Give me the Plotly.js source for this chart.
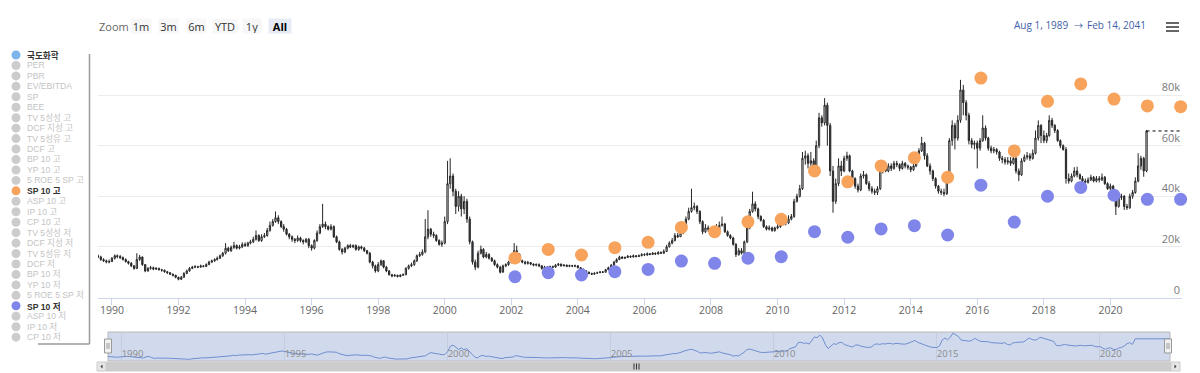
<!DOCTYPE html>
<html><head><meta charset="utf-8">
<script src="https://cdn.plot.ly/plotly-3.0.1.min.js"></script>
<style>html,body{margin:0;padding:0;background:#fff}#chart{width:1200px;height:373px}</style>
</head><body><div id="chart"></div>
<script>
// ---- DATA (monthly candles, values in thousands of KRW) ----
const startYear = 1989, startMonth = 8;
const openK = [
16.5,16.0,15.0,14.5,14.0,
14.2,15.5,16.5,16.2,15.8,15.0,14.2,13.5,12.5,11.5,15.0,16.0,
13.0,10.5,11.5,11.8,11.2,11.5,11.0,10.8,10.2,9.8,9.2,8.8,
8.0,7.2,8.0,9.5,10.5,11.5,12.0,12.2,12.0,12.5,12.3,13.0,
14.0,14.5,15.0,15.5,16.5,17.5,19.5,18.5,19.8,20.5,19.5,20.0,
21.0,20.5,21.5,22.0,23.0,24.5,22.5,24.0,24.5,26.5,28.5,30.0,
31.5,30.0,28.0,27.0,25.0,24.0,23.0,22.5,23.5,22.5,22.0,23.0,
20.5,19.5,22.5,25.5,28.0,29.0,28.0,27.0,28.0,24.0,22.0,19.0,
18.0,19.5,20.5,20.0,20.5,19.0,20.0,19.5,18.5,17.5,14.0,12.5,
10.5,13.0,14.5,12.0,10.5,9.0,8.5,8.8,8.3,8.8,9.0,11.5,
12.5,13.0,14.5,16.5,17.0,18.0,24.0,27.0,25.0,24.5,22.5,21.0,
21.5,30.0,45.0,48.0,42.0,36.0,40.0,35.0,38.0,31.0,22.0,14.0,
12.0,17.5,19.0,16.0,17.0,15.5,14.5,13.0,12.0,10.0,12.5,13.0,
14.0,14.5,18.5,17.0,14.5,14.0,13.5,13.8,13.2,12.8,13.0,12.5,
11.5,12.0,11.8,12.2,12.0,12.8,13.2,12.5,12.8,12.3,12.6,12.4,
12.5,11.8,11.2,10.5,10.0,9.5,9.2,9.6,9.8,10.1,10.0,11.0,
11.8,12.8,14.0,15.0,16.0,15.5,15.8,16.3,16.0,16.5,16.2,16.5,
17.0,16.8,17.3,17.0,17.5,17.2,17.8,17.5,18.2,20.0,21.5,22.5,
24.5,24.0,25.5,28.0,31.0,34.0,35.5,36.0,34.0,30.0,26.0,27.5,
27.0,26.0,25.0,26.5,28.5,29.0,26.0,24.5,23.5,21.0,17.0,18.5,
17.5,22.0,27.5,34.0,37.0,35.0,32.0,30.5,28.0,27.0,27.5,26.5,
27.5,28.0,29.0,30.5,29.5,31.0,32.0,38.0,40.0,43.0,55.0,56.0,
53.0,54.0,51.0,60.0,71.0,69.0,76.0,68.0,50.0,38.0,45.0,52.0,
50.0,55.0,56.0,50.0,47.0,44.0,42.5,48.0,48.5,45.0,43.0,42.0,
41.5,43.0,50.0,51.5,50.0,52.0,51.0,53.0,52.5,51.0,53.0,52.0,
51.5,50.5,52.0,55.0,58.0,61.0,56.0,52.0,50.0,47.0,44.0,42.0,
41.5,41.0,46.0,62.0,68.0,63.0,70.0,82.0,77.0,72.0,62.0,60.5,
61.0,59.0,62.0,67.0,63.0,59.0,58.0,58.5,57.5,55.0,54.5,53.5,
54.0,53.0,55.0,50.0,48.5,54.0,55.5,56.0,55.0,57.0,63.0,68.0,
64.0,62.0,64.0,70.0,68.0,66.0,62.0,60.0,58.5,47.0,46.0,48.0,
50.0,48.5,47.0,46.0,45.5,46.5,47.5,46.0,47.0,46.5,47.5,45.0,
43.0,44.0,40.0,36.0,39.5,40.0,36.0,35.5,40.0,41.5,46.0,52.0,
55.0,50.0];
const highK = [
17.0,16.5,15.5,15.0,15.0,
16.0,17.0,17.0,16.8,16.2,15.5,14.5,14.0,12.8,17.5,16.8,16.2,
13.2,12.0,12.5,12.2,12.0,11.8,11.3,11.0,10.5,10.0,9.5,9.0,
8.2,8.5,10.0,11.0,12.0,12.5,12.8,12.5,13.0,12.8,13.5,14.5,
15.0,15.5,16.2,17.0,18.0,21.5,20.0,20.5,22.0,21.0,20.8,21.8,
21.8,22.0,22.8,24.0,26.5,25.0,25.0,25.5,27.5,30.0,31.0,34.0,
32.5,30.5,29.0,27.5,25.5,24.5,23.5,24.5,24.0,23.0,23.5,23.5,
21.0,23.0,26.5,29.0,37.0,30.0,28.5,29.0,28.5,24.5,22.5,19.5,
20.0,21.0,21.2,21.0,21.0,20.5,20.5,20.0,18.8,18.0,14.5,13.0,
14.0,15.0,14.8,12.5,10.8,9.3,9.2,9.0,9.2,9.5,12.0,13.0,
13.8,15.0,17.0,18.0,19.0,31.0,34.5,27.5,26.0,25.0,23.0,22.5,
32.0,54.0,55.0,49.0,43.0,42.0,41.0,40.0,39.0,32.0,22.5,15.0,
18.5,20.5,19.5,18.0,17.5,16.0,15.0,13.5,12.5,13.0,13.5,14.5,
15.5,21.5,20.5,17.5,15.0,14.5,14.5,14.0,13.5,13.5,13.5,12.8,
12.5,12.4,12.6,12.6,13.2,13.6,13.4,13.2,13.0,13.0,12.9,13.0,
12.8,12.0,11.4,10.8,10.2,9.8,9.9,10.2,10.4,10.4,11.3,12.2,
13.2,14.5,15.5,16.5,16.3,16.2,16.8,16.6,17.0,16.8,17.0,17.5,
17.5,17.8,17.6,18.0,17.8,18.3,18.2,19.0,20.8,22.2,23.5,25.5,
25.5,26.5,29.0,32.0,35.5,43.0,37.5,36.5,34.5,30.5,29.0,28.5,
27.5,27.0,29.0,30.0,32.0,29.5,26.5,25.0,24.0,21.5,19.5,19.5,
22.5,28.5,35.0,41.8,38.0,35.5,32.5,31.0,28.5,28.5,28.0,28.0,
29.0,30.0,31.5,31.0,32.5,33.0,39.0,41.0,44.5,57.5,58.0,57.0,
57.5,55.0,62.0,73.0,72.0,78.8,77.0,69.0,52.0,47.0,55.0,54.0,
56.0,57.6,56.5,50.5,47.5,45.0,49.0,50.0,49.0,46.0,44.0,43.0,
44.0,51.0,52.5,52.0,53.0,53.0,54.0,54.0,53.0,54.0,53.5,52.5,
52.0,53.0,56.0,59.0,63.5,61.5,57.0,53.0,50.5,47.5,44.5,43.0,
43.0,47.5,63.0,70.0,69.0,72.0,86.0,84.0,78.0,73.0,63.0,62.0,
62.0,63.0,72.0,68.0,63.5,60.0,59.5,59.0,58.0,56.0,55.5,55.5,
55.5,56.0,55.5,51.0,55.0,56.5,57.5,57.0,58.5,66.0,70.0,68.5,
66.0,65.0,72.0,71.0,68.5,66.5,62.5,60.5,59.5,49.0,49.0,51.5,
51.7,49.0,48.0,47.0,47.5,48.5,48.0,48.0,48.0,49.0,48.0,45.5,
45.0,44.5,41.0,40.5,41.0,40.5,37.0,41.0,42.5,47.5,57.0,56.0,
55.6,66.2];
const lowK = [
15.5,14.5,14.0,13.5,13.5,
14.0,15.0,15.5,15.2,14.6,13.8,13.0,12.0,11.0,11.2,14.5,12.5,
10.0,10.2,11.0,10.8,10.9,10.6,10.2,9.8,9.3,8.9,8.3,7.6,
6.8,6.9,7.8,9.2,10.2,11.2,11.6,11.6,11.8,11.9,12.0,12.8,
13.6,14.0,14.6,15.2,16.0,17.0,18.0,18.0,19.2,19.0,19.0,19.5,
20.0,20.0,21.0,21.5,22.5,22.0,22.0,23.5,24.0,26.0,28.0,29.5,
29.0,27.5,26.0,24.5,23.0,22.0,21.5,22.0,21.8,21.0,21.5,19.5,
18.5,19.0,22.0,25.0,27.5,27.0,26.5,26.5,23.5,21.5,18.5,17.0,
17.5,19.0,19.5,19.5,18.5,18.5,19.0,18.0,17.0,13.5,11.5,9.8,
10.0,12.5,11.5,10.0,8.7,8.0,8.2,7.9,8.0,8.5,8.8,11.0,
12.0,12.5,14.0,16.0,16.5,17.5,23.0,24.0,23.5,22.0,20.5,20.0,
21.0,29.0,43.0,40.0,33.0,34.0,32.0,33.0,29.5,21.0,13.0,10.8,
11.5,17.0,15.5,15.5,15.0,14.0,12.5,11.5,9.5,9.8,12.0,12.5,
13.5,14.0,16.5,14.0,13.5,13.0,13.0,12.8,12.3,12.3,12.0,11.0,
11.2,11.4,11.5,11.7,11.8,12.4,12.2,12.3,12.0,12.0,12.0,12.0,
11.5,11.0,10.3,9.8,9.2,8.9,9.0,9.4,9.6,9.7,9.9,10.8,
11.5,12.5,13.8,14.8,15.2,15.2,15.6,15.7,15.8,15.8,16.0,16.3,
16.4,16.5,16.7,16.8,16.8,17.0,17.2,17.3,18.0,19.8,21.0,22.2,
23.5,24.0,25.0,27.5,30.5,33.5,34.5,33.0,29.0,25.0,25.5,26.0,
25.0,24.5,24.5,26.0,28.0,25.5,24.0,23.0,20.5,16.0,16.5,17.0,
17.0,21.5,27.0,33.5,34.0,31.0,30.0,27.5,26.5,26.5,26.0,26.0,
27.0,27.5,28.5,28.5,29.0,30.5,31.5,37.5,39.5,42.5,52.5,51.0,
50.0,49.5,50.5,59.0,67.5,68.0,60.0,48.0,33.5,37.0,44.0,48.0,
49.5,54.0,49.5,46.0,43.0,41.5,42.0,47.0,44.5,42.0,41.0,40.5,
40.5,42.5,49.0,49.5,49.5,50.0,50.5,51.5,50.0,50.5,51.0,50.5,
49.5,50.0,51.5,54.5,57.5,54.5,51.5,48.5,46.0,43.0,41.0,40.5,
40.0,40.5,45.5,60.0,58.5,62.0,69.0,72.0,70.0,60.5,59.0,58.5,
51.0,58.0,61.5,62.0,58.0,57.0,57.0,56.5,54.0,53.0,52.5,52.5,
52.0,52.5,49.0,46.0,48.0,53.5,54.5,54.0,54.5,56.5,62.0,61.0,
61.0,61.0,63.5,67.0,65.0,61.5,59.0,58.0,45.0,45.0,45.5,47.5,
47.5,46.5,45.0,45.0,45.0,46.0,45.5,45.5,45.5,46.0,44.5,42.5,
42.5,38.5,32.6,35.5,38.5,34.6,34.6,35.0,39.0,41.0,45.5,50.5,
47.7,49.5];
const closeK = [
16.0,15.0,14.5,14.0,14.2,
15.5,16.5,16.2,15.8,15.0,14.2,13.5,12.5,11.5,15.0,16.0,13.0,
10.5,11.5,11.8,11.2,11.5,11.0,10.8,10.2,9.8,9.2,8.8,8.0,
7.2,8.0,9.5,10.5,11.5,12.0,12.2,12.0,12.5,12.3,13.0,14.0,
14.5,15.0,15.5,16.5,17.5,19.5,18.5,19.8,20.5,19.5,20.0,21.0,
20.5,21.5,22.0,23.0,24.5,22.5,24.0,24.5,26.5,28.5,30.0,31.5,
30.0,28.0,27.0,25.0,24.0,23.0,22.5,23.5,22.5,22.0,23.0,20.5,
19.5,22.5,25.5,28.0,29.0,28.0,27.0,28.0,24.0,22.0,19.0,18.0,
19.5,20.5,20.0,20.5,19.0,20.0,19.5,18.5,17.5,14.0,12.5,10.5,
13.0,14.5,12.0,10.5,9.0,8.5,8.8,8.3,8.8,9.0,11.5,12.5,
13.0,14.5,16.5,17.0,18.0,24.0,27.0,25.0,24.5,22.5,21.0,21.5,
30.0,45.0,48.0,42.0,36.0,40.0,35.0,38.0,31.0,22.0,14.0,12.0,
17.5,19.0,16.0,17.0,15.5,14.5,13.0,12.0,10.0,12.5,13.0,14.0,
14.5,18.5,17.0,14.5,14.0,13.5,13.8,13.2,12.8,13.0,12.5,11.5,
12.0,11.8,12.2,12.0,12.8,13.2,12.5,12.8,12.3,12.6,12.4,12.5,
11.8,11.2,10.5,10.0,9.5,9.2,9.6,9.8,10.1,10.0,11.0,11.8,
12.8,14.0,15.0,16.0,15.5,15.8,16.3,16.0,16.5,16.2,16.5,17.0,
16.8,17.3,17.0,17.5,17.2,17.8,17.5,18.2,20.0,21.5,22.5,24.5,
24.0,25.5,28.0,31.0,34.0,35.5,36.0,34.0,30.0,26.0,27.5,27.0,
26.0,25.0,26.5,28.5,29.0,26.0,24.5,23.5,21.0,17.0,18.5,17.5,
22.0,27.5,34.0,37.0,35.0,32.0,30.5,28.0,27.0,27.5,26.5,27.5,
28.0,29.0,30.5,29.5,31.0,32.0,38.0,40.0,43.0,55.0,56.0,53.0,
54.0,51.0,60.0,71.0,69.0,76.0,68.0,50.0,38.0,45.0,52.0,50.0,
55.0,56.0,50.0,47.0,44.0,42.5,48.0,48.5,45.0,43.0,42.0,41.5,
43.0,50.0,51.5,50.0,52.0,51.0,53.0,52.5,51.0,53.0,52.0,51.5,
50.5,52.0,55.0,58.0,61.0,56.0,52.0,50.0,47.0,44.0,42.0,41.5,
41.0,46.0,62.0,68.0,63.0,70.0,82.0,77.0,72.0,62.0,60.5,61.0,
59.0,62.0,67.0,63.0,59.0,58.0,58.5,57.5,55.0,54.5,53.5,54.0,
53.0,55.0,50.0,48.5,54.0,55.5,56.0,55.0,57.0,63.0,68.0,64.0,
62.0,64.0,70.0,68.0,66.0,62.0,60.0,58.5,47.0,46.0,48.0,50.0,
48.5,47.0,46.0,45.5,46.5,47.5,46.0,47.0,46.5,47.5,45.0,43.0,
44.0,40.0,36.0,39.5,40.0,36.0,35.5,40.0,41.5,46.0,52.0,55.0,
50.0,65.8];

// Annual band points: SP 10 고 / SP 10 저 (thousands)
const bandDates = ['2002-02-10','2003-02-10','2004-02-10','2005-02-10','2006-02-10','2007-02-10','2008-02-10',
  '2009-02-10','2010-02-10','2011-02-10','2012-02-10','2013-02-10','2014-02-10','2015-02-10','2016-02-10',
  '2017-02-10','2018-02-10','2019-02-10','2020-02-10','2021-02-10','2022-02-10'];
const sp10HighK = [15.6,19.0,16.8,19.7,21.8,27.7,26.0,29.9,30.9,50.0,45.7,52.0,55.2,47.5,86.7,57.9,77.5,84.4,78.4,75.7,75.4];
const sp10LowK  = [8.2,9.8,8.9,10.2,11.1,14.4,13.5,15.5,16.1,26.0,23.8,27.1,28.4,24.7,44.4,29.8,40.0,43.5,40.4,38.8,38.8];

const seriesNames = ['국도화학','PER','PBR','EV/EBITDA','SP','BEE','TV 5성성 고','DCF 지성 고','TV 5성유 고','DCF 고',
  'BP 10 고','YP 10 고','5 ROE 5 SP 고','SP 10 고','ASP 10 고','IP 10 고','CP 10 고','TV 5성성 저','DCF 지성 저',
  'TV 5성유 저','DCF 저','BP 10 저','YP 10 저','5 ROE 5 SP 저','SP 10 저','ASP 10 저','IP 10 저','CP 10 저'];
const activeColors = {'국도화학':'#7cb5ec','SP 10 고':'#f7a35c','SP 10 저':'#8085e9'};
const rangeButtons = ['1m','3m','6m','YTD','1y','All'];
const rangeFrom = 'Aug 1, 1989', rangeTo = 'Feb 14, 2041';
const xStart = '1989-08-01', xEnd = '2022-02-25';

// ---- BUILD ----
const k = v => v * 1000;
const dates = closeK.map((_, i) => {
  const m = startMonth - 1 + i;
  const y = startYear + Math.floor(m / 12);
  return y + '-' + String(m % 12 + 1).padStart(2, '0') + '-01';
});
const W = 1200, H = 373;
const PX = p => p / W, PY = p => 1 - p / H;
const FONT = '"Open Sans", "Noto Sans CJK KR", "DejaVu Sans", sans-serif';
const LFONT = '"Liberation Sans", Arial, "Noto Sans CJK KR", sans-serif';

const traces = [
  {type:'candlestick', x:dates, open:openK.map(k), high:highK.map(k), low:lowK.map(k), close:closeK.map(k),
   xaxis:'x', yaxis:'y', showlegend:false, whiskerwidth:0,
   increasing:{line:{color:'#262626', width:1}, fillcolor:'#ffffff'},
   decreasing:{line:{color:'#262626', width:1}, fillcolor:'#3a4656'}},
  {type:'scatter', mode:'markers', x:bandDates, y:sp10HighK.map(k), xaxis:'x', yaxis:'y', cliponaxis:false,
   marker:{size:13, color:'#f7a35c'}, showlegend:false, name:'SP 10 고'},
  {type:'scatter', mode:'markers', x:bandDates, y:sp10LowK.map(k), xaxis:'x', yaxis:'y', cliponaxis:false,
   marker:{size:13, color:'#8085e9'}, showlegend:false, name:'SP 10 저'},
  {type:'scatter', mode:'lines', x:dates.concat([xEnd]), y:closeK.map(k).concat([k(closeK[closeK.length-1])]),
   xaxis:'x2', yaxis:'y2', line:{color:'#6f8ecf', width:1}, showlegend:false, hoverinfo:'skip'}
];

const shapes = [];
const annotations = [];

// last price dashed line
shapes.push({type:'line', xref:'x', yref:'y', x0:dates[dates.length-1], x1:xEnd,
  y0:k(closeK[closeK.length-1]), y1:k(closeK[closeK.length-1]), line:{color:'#000', width:1, dash:'dot'}});

// legend (custom, compact)
seriesNames.forEach((name, i) => {
  const yc = 55 + i * 10.45;
  const col = activeColors[name];
  shapes.push({type:'circle', xref:'paper', yref:'paper', x0:PX(11.5), x1:PX(20.5), y0:PY(yc+4.5), y1:PY(yc-4.5),
    fillcolor: col || '#cccccc', line:{width:0}});
  annotations.push({xref:'paper', yref:'paper', x:PX(26), y:PY(yc), xanchor:'left', yanchor:'middle', showarrow:false,
    borderpad:0, height:10,
    text: col ? '<b>' + name + '</b>' : name, font:{family:LFONT, size:8.6, color: col ? '#333333' : '#c4c4c4'}});
});
shapes.push({type:'line', xref:'paper', yref:'paper', x0:PX(89.5), x1:PX(89.5), y0:PY(54), y1:PY(344), line:{color:'#9a9a9a', width:1.5}});
shapes.push({type:'line', xref:'paper', yref:'paper', x0:PX(38), x1:PX(89.5), y0:PY(344), y1:PY(344), line:{color:'#9a9a9a', width:1.5}});

// range selector look
annotations.push({xref:'paper', yref:'paper', x:PX(98), y:PY(26), xanchor:'left', yanchor:'middle', showarrow:false,
  borderpad:0, text:'Zoom', font:{family:FONT, size:11, color:'#666'}});
const btnCenters = [140.7, 168, 196, 224.5, 251.7, 279.5];
const btnWidths = [20, 19, 19, 24, 18, 22];
rangeButtons.forEach((b, i) => {
  const sel = b === 'All';
  annotations.push({xref:'paper', yref:'paper', x:PX(btnCenters[i]), y:PY(26), xanchor:'center', yanchor:'middle',
    showarrow:false, borderpad:0, text: sel ? '<b>' + b + '</b>' : b, width: btnWidths[i], height:14,
    bgcolor: sel ? '#e6ebf5' : '#f7f7f7', font:{family:FONT, size:11, color: sel ? '#000' : '#333'}});
});
annotations.push({xref:'paper', yref:'paper', x:PX(1013), y:PY(25), xanchor:'left', yanchor:'middle', showarrow:false,
  borderpad:0, text:rangeFrom, font:{family:FONT, size:10, color:'#3f60a8'}});
annotations.push({xref:'paper', yref:'paper', x:PX(1078.5), y:PY(25), xanchor:'center', yanchor:'middle', showarrow:false,
  borderpad:0, text:'→', font:{family:FONT, size:9, color:'#3f60a8'}});
annotations.push({xref:'paper', yref:'paper', x:PX(1147), y:PY(25), xanchor:'right', yanchor:'middle', showarrow:false,
  borderpad:0, text:rangeTo, font:{family:FONT, size:10, color:'#3f60a8'}});
// hamburger
[22, 26, 30].forEach(yy => shapes.push({type:'rect', xref:'paper', yref:'paper', x0:PX(1166), x1:PX(1179),
  y0:PY(yy+2), y1:PY(yy), fillcolor:'#666', line:{width:0}}));

// navigator
const navL = 108, navR = 1170, navT = 332, navB = 361;
shapes.push({type:'rect', xref:'paper', yref:'paper', x0:PX(navL), x1:PX(navR), y0:PY(navB), y1:PY(navT),
  fillcolor:'rgba(102,133,194,0.3)', line:{color:'#b8b8b8', width:1}, layer:'below'});
[navL, navR - 2].forEach(hx => {
  shapes.push({type:'rect', xref:'paper', yref:'paper', x0:PX(hx-3.5), x1:PX(hx+3.5), y0:PY(353), y1:PY(339),
    fillcolor:'#f2f2f2', line:{color:'#999', width:1}});
  shapes.push({type:'line', xref:'paper', yref:'paper', x0:PX(hx-1), x1:PX(hx-1), y0:PY(349), y1:PY(343), line:{color:'#999', width:1}});
  shapes.push({type:'line', xref:'paper', yref:'paper', x0:PX(hx+1), x1:PX(hx+1), y0:PY(349), y1:PY(343), line:{color:'#999', width:1}});
});
// scrollbar
shapes.push({type:'rect', xref:'paper', yref:'paper', x0:PX(97), x1:PX(1180), y0:PY(371), y1:PY(362), fillcolor:'#f2f2f2', line:{width:0}});
shapes.push({type:'rect', xref:'paper', yref:'paper', x0:PX(106), x1:PX(1171), y0:PY(371), y1:PY(362), fillcolor:'#cccccc', line:{color:'#cccccc', width:1}});
shapes.push({type:'rect', xref:'paper', yref:'paper', x0:PX(97), x1:PX(106), y0:PY(371), y1:PY(362), fillcolor:'#e6e6e6', line:{color:'#cccccc', width:1}});
shapes.push({type:'rect', xref:'paper', yref:'paper', x0:PX(1171), x1:PX(1180), y0:PY(371), y1:PY(362), fillcolor:'#e6e6e6', line:{color:'#cccccc', width:1}});
[634, 636.5, 639].forEach(rx => shapes.push({type:'line', xref:'paper', yref:'paper', x0:PX(rx), x1:PX(rx), y0:PY(369.5), y1:PY(363.5), line:{color:'#333', width:1}}));
shapes.push({type:'path', xref:'paper', yref:'paper', fillcolor:'#333', line:{width:0},
  path:'M'+PX(100.5)+','+PY(366.5)+' L'+PX(102.5)+','+PY(364.5)+' L'+PX(102.5)+','+PY(368.5)+' Z'});
shapes.push({type:'path', xref:'paper', yref:'paper', fillcolor:'#333', line:{width:0},
  path:'M'+PX(1176.5)+','+PY(366.5)+' L'+PX(1174.5)+','+PY(364.5)+' L'+PX(1174.5)+','+PY(368.5)+' Z'});

const navMin = Math.min.apply(null, closeK), navMax = Math.max.apply(null, closeK);

const layout = {
  width:W, height:H, margin:{l:0, r:0, t:0, b:0}, paper_bgcolor:'#ffffff', plot_bgcolor:'rgba(0,0,0,0)',
  font:{family:FONT, size:11, color:'#666'}, showlegend:false, dragmode:false, hovermode:false,
  xaxis:{domain:[PX(98), PX(1182)], anchor:'y', type:'date', range:[xStart, xEnd], rangeslider:{visible:false},
    tick0:'1990-01-01', dtick:'M24', tickformat:'%Y', ticks:'outside', ticklen:6, tickcolor:'#ccd6eb',
    showline:true, linecolor:'#ccd6eb', linewidth:1, showgrid:false, zeroline:false, ticklabelstandoff:-3,
    tickfont:{family:FONT, size:10.5, color:'#666'}, fixedrange:true},
  yaxis:{domain:[PY(297.5), PY(50)], anchor:'x', range:[0, 97800], side:'right', ticklabelposition:'inside top',
    dtick:20000, tick0:0, tickformat:'~s', showgrid:true, gridcolor:'#ececec', zeroline:false, showline:false,
    ticklabelstandoff:-1,
    tickfont:{family:FONT, size:11, color:'#7a7a7a'}, fixedrange:true},
  xaxis2:{domain:[PX(navL), PX(navR)], anchor:'y2', type:'date', range:[xStart, xEnd],
    tick0:'1990-01-01', dtick:'M60', tickformat:'%Y', ticklabelposition:'inside right', ticks:'',
    showgrid:true, gridcolor:'#c4cde0', showline:false, zeroline:false, ticklabelstandoff:-4,
    tickfont:{family:FONT, size:9.5, color:'#8a8a8a'}, fixedrange:true},
  yaxis2:{domain:[PY(navB), PY(navT)], anchor:'x2', range:[k(navMin) - 4000, k(navMax) + 3000],
    showticklabels:false, showgrid:false, zeroline:false, fixedrange:true},
  shapes:shapes, annotations:annotations
};

Plotly.newPlot('chart', traces, layout, {displayModeBar:false, staticPlot:true});
</script></body></html>
